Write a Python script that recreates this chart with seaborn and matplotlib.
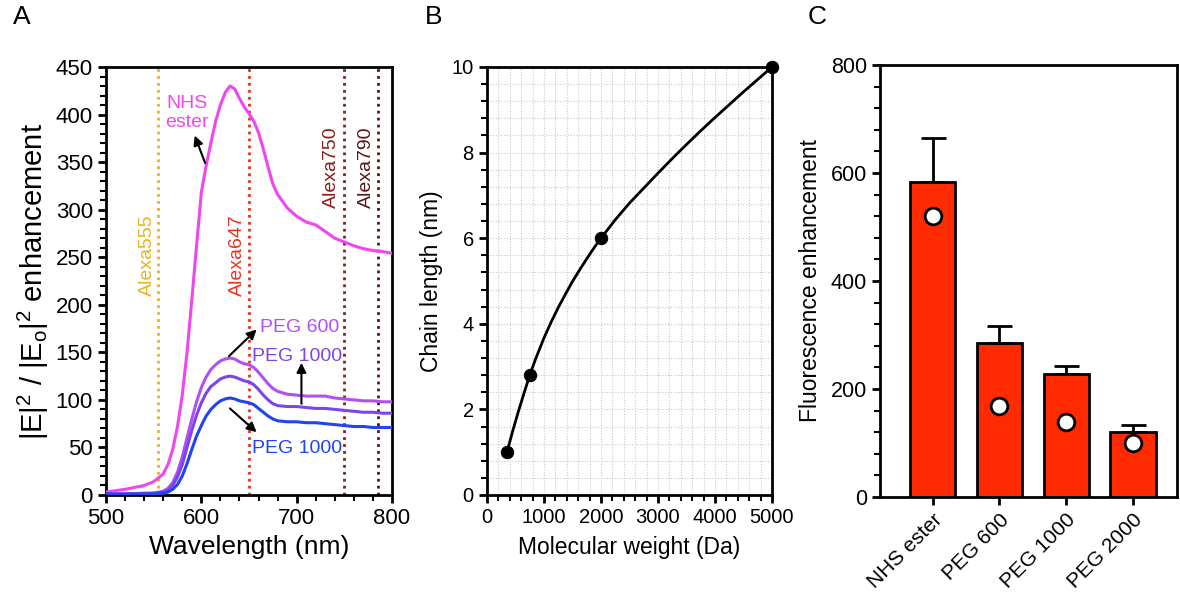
import numpy as np
import pandas as pd
import seaborn as sns
import matplotlib.pyplot as plt
from matplotlib.ticker import MultipleLocator

# Panel A: field enhancement spectra ##########################################
wavelength = [500, 520, 540, 550,
              560, 565, 570, 575, 580, 585, 590, 595, 600, 605, 610, 615, 620,
              625, 630, 635, 640, 645, 650, 655, 660, 665, 670, 675, 680,
              690, 700, 710, 720, 730, 740, 750, 760, 770, 780, 790, 800]
nhs_ester = [3, 6, 10, 14,
             22, 32, 48, 72, 105, 150, 205, 262, 318, 346, 370, 393, 410,
             423, 430, 427, 417, 408, 401, 393, 381, 364, 345, 327, 316,
             302, 293, 287, 284, 277, 270, 266, 262, 259, 257, 256, 254]
peg600 = [1, 1, 2, 2,
          4, 7, 13, 24, 40, 60, 80, 98, 113, 124, 132, 137, 141,
          143, 144, 143, 140, 138, 137, 134, 129, 123, 117, 112, 109,
          106, 105, 104, 104, 104, 102, 101, 100, 99, 99, 98, 98]
peg1000_a = [1, 1, 1, 2,
             3, 5, 10, 19, 32, 50, 68, 84, 97, 107, 114, 118, 122,
             124, 125, 124, 122, 120, 119, 116, 111, 105, 100, 96, 94,
             93, 93, 92, 91, 91, 90, 89, 88, 87, 87, 86, 86]
peg1000_b = [1, 1, 1, 1,
             2, 3, 6, 11, 20, 33, 48, 62, 73, 83, 90, 95, 99,
             101, 102, 101, 99, 98, 97, 95, 91, 87, 83, 80, 78,
             77, 77, 76, 76, 75, 74, 73, 72, 72, 71, 71, 71]
series_names = ["NHS ester", "PEG 600", "PEG 1000 a", "PEG 1000 b"]
series_colors = ["#f046f0", "#b050f0", "#7b45ee", "#1f45ee"]

dye_names = ["Alexa555", "Alexa647", "Alexa750", "Alexa790"]
dye_wl = [555, 650, 750, 785]
dye_colors = ["#e6b422", "#e8321e", "#8b1c1c", "#5a1414"]

# Panel B: chain length vs molecular weight ###################################
mw_points = [350, 750, 2000, 5000]
length_points = [1.0, 2.8, 6.0, 10.0]
mw_curve = [350, 450, 550, 650, 750, 850, 1000, 1125, 1250, 1375, 1500, 1625,
            1750, 1875, 2000, 2250, 2500, 2750, 3000, 3250, 3500, 3750, 4000,
            4250, 4500, 4750, 5000]
length_curve = [1.0, 1.49, 1.95, 2.38, 2.8, 3.17, 3.67, 4.04, 4.38, 4.69, 4.99, 5.26,
                5.52, 5.77, 6.0, 6.43, 6.82, 7.17, 7.52, 7.86, 8.19, 8.51, 8.82,
                9.12, 9.42, 9.71, 10.0]

# Panel C: fluorescence enhancement ###########################################
groups = ["NHS ester", "PEG 600", "PEG 1000", "PEG 2000"]
fl_mean = [583, 285, 228, 120]
fl_err = [82, 32, 14, 13]
fl_model = [520, 168, 138, 100]

sns.set_style("ticks")
plt.rcParams["font.family"] = ["Liberation Sans", "DejaVu Sans"]
plt.rcParams["mathtext.fontset"] = "custom"
plt.rcParams["mathtext.rm"] = "Liberation Sans"
plt.rcParams["mathtext.it"] = "Liberation Sans"
plt.rcParams["axes.linewidth"] = 2
for key in ["axes.edgecolor", "text.color", "axes.labelcolor", "xtick.color", "ytick.color"]:
    plt.rcParams[key] = "black"

fig = plt.figure(figsize=(11.8, 5.99), dpi=100)
axA = fig.add_axes([106 / 1180, 1 - 495 / 599, 286 / 1180, 428 / 599])
axB = fig.add_axes([487 / 1180, 1 - 495 / 599, 285 / 1180, 428 / 599])
axC = fig.add_axes([880 / 1180, 1 - 497 / 599, 297 / 1180, 432 / 599])

# ---- A
df_a = pd.DataFrame({
    "wl": wavelength * 4,
    "val": nhs_ester + peg600 + peg1000_a + peg1000_b,
    "series": np.repeat(series_names, len(wavelength)),
})
for name, wl, col in zip(dye_names, dye_wl, dye_colors):
    axA.axvline(wl, color=col, ls=(0, (1, 1.5)), lw=2, zorder=1)
sns.lineplot(data=df_a, x="wl", y="val", hue="series",
             palette=dict(zip(series_names, series_colors)),
             lw=2.2, legend=False, ax=axA, zorder=3)
label_pos = [(544, 252), (638, 252), (737, 345), (773, 345)]
for name, (x, y), col in zip(dye_names, label_pos, dye_colors):
    axA.text(x, y, name, rotation=90, color=col, ha="center", va="center", fontsize=14)

axA.text(585, 402, "NHS\nester", color=series_colors[0], ha="center", va="center",
         fontsize=14, linespacing=1.15)
axA.text(703, 176, "PEG 600", color=series_colors[1], ha="center", va="center", fontsize=14)
axA.text(700, 146, "PEG 1000", color=series_colors[2], ha="center", va="center", fontsize=14)
axA.text(700, 49, "PEG 1000", color=series_colors[3], ha="center", va="center", fontsize=14)
arrows = [((604, 349), (593, 378)), ((629, 146), (658, 174)),
          ((705, 96), (705, 139)), ((630, 91), (658, 66))]
for tail, head in arrows:
    axA.annotate("", xy=head, xytext=tail,
                 arrowprops=dict(arrowstyle="-|>", color="black", lw=1.5,
                                 mutation_scale=14, shrinkA=0, shrinkB=0))
axA.set_xlim(500, 800)
axA.set_ylim(0, 450)
axA.xaxis.set_major_locator(MultipleLocator(100))
axA.xaxis.set_minor_locator(MultipleLocator(20))
axA.yaxis.set_major_locator(MultipleLocator(50))
axA.yaxis.set_minor_locator(MultipleLocator(10))
axA.tick_params(which="major", labelsize=16, width=2, length=6)
axA.tick_params(which="minor", width=1.5, length=4)
axA.set_xlabel("Wavelength (nm)", fontsize=19)
axA.set_ylabel(r"$\mathregular{|E|^2\ /\ |E_o|^2}$ enhancement", fontsize=21, labelpad=3)

# ---- B
axB.set_xlim(0, 5000)
axB.set_ylim(0, 10)
axB.xaxis.set_major_locator(MultipleLocator(1000))
axB.xaxis.set_minor_locator(MultipleLocator(200))
axB.yaxis.set_major_locator(MultipleLocator(2))
axB.yaxis.set_minor_locator(MultipleLocator(0.4))
axB.grid(which="both", color="#c8c8c8", ls=(0, (1, 1.5)), lw=0.8)
axB.set_axisbelow(True)
sns.lineplot(x=mw_curve, y=length_curve, color="black", lw=2, ax=axB)
sns.scatterplot(x=mw_points, y=length_points, color="black", s=80,
                edgecolor="black", ax=axB, zorder=5, clip_on=False)
axB.tick_params(which="major", labelsize=14.5, width=2, length=6)
axB.tick_params(which="minor", width=1.5, length=4)
axB.set_xlabel("Molecular weight (Da)", fontsize=16.5, labelpad=6)
axB.set_ylabel("Chain length (nm)", fontsize=16.5, labelpad=6)

# ---- C
df_c = pd.DataFrame({"group": groups, "mean": fl_mean, "model": fl_model})
sns.barplot(data=df_c, x="group", y="mean", color="#ff2a00", saturation=1,
            edgecolor="black", linewidth=2, width=0.68, errorbar=None, ax=axC)
axC.errorbar(x=np.arange(len(groups)), y=fl_mean, yerr=[np.zeros(4), fl_err],
             fmt="none", ecolor="black", elinewidth=2, capsize=9, capthick=2, zorder=4)
sns.stripplot(data=df_c, x="group", y="model", jitter=False, color="white",
              edgecolor="black", linewidth=2, size=12, ax=axC, zorder=6)
axC.set_xlim(-0.79, 3.66)
axC.set_ylim(0, 800)
axC.yaxis.set_major_locator(MultipleLocator(200))
axC.yaxis.set_minor_locator(MultipleLocator(40))
axC.tick_params(which="major", labelsize=15.5, width=2, length=6)
axC.tick_params(which="minor", width=1.5, length=4)
axC.tick_params(axis="x", labelsize=15)
plt.setp(axC.get_xticklabels(), rotation=45, ha="right", rotation_mode="anchor")
axC.set_xlabel("")
axC.set_ylabel("Fluorescence enhancement", fontsize=16.5, labelpad=6)

for ax in (axA, axB, axC):
    for s in ax.spines.values():
        s.set_visible(True)
        s.set_linewidth(2)

fig.text(22 / 1180, 1 - 17 / 599, "A", fontsize=19, ha="center", va="center")
fig.text(434 / 1180, 1 - 17 / 599, "B", fontsize=19, ha="center", va="center")
fig.text(817 / 1180, 1 - 17 / 599, "C", fontsize=19, ha="center", va="center")

plt.savefig("out.png", dpi=100)
